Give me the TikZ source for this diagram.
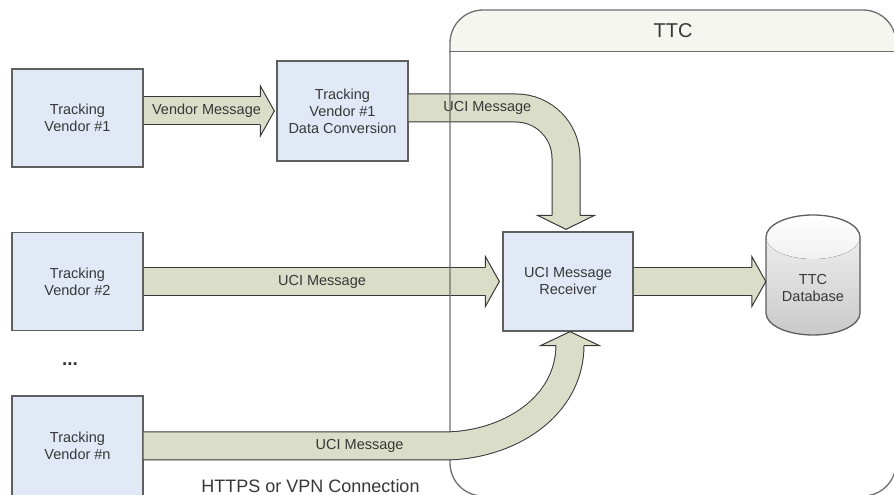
\documentclass[tikz,border=0pt]{standalone}
\usepackage{fontspec}
\setmainfont{Liberation Sans}
\usetikzlibrary{calc}

\definecolor{boxfill}{RGB}{226,233,246}
\definecolor{boxline}{RGB}{95,95,95}
\definecolor{msgfill}{RGB}{218,222,200}
\definecolor{msgline}{RGB}{55,55,55}
\definecolor{ttcline}{RGB}{110,110,110}
\definecolor{headfill}{RGB}{246,246,241}
\definecolor{textgray}{RGB}{55,55,55}

\newcommand{\boxfont}{\fontsize{14.5}{17}\selectfont}
% fat arrow head: tip, direction, half width
\newcommand{\msgtip}[3]{%
  \filldraw[msghead, shift={(#1)}, rotate=#2]
    (-14,-14) -- (-14,-#3) -- (0,0) -- (-14,#3) -- (-14,14);}

\begin{document}
\begin{tikzpicture}[x=1pt, y=1pt,
    block/.style={rectangle, draw=boxline, line width=1.3pt, fill=boxfill,
                  minimum width=131pt, minimum height=98pt,
                  text centered, align=center, text=textgray, font=\boxfont},
    msgbody/.style={draw=msgline, line width=1pt, double=msgfill,
                    double distance=27pt},
    msghead/.style={fill=msgfill, draw=msgline, line width=1pt},
    msglabel/.style={text=textgray, font=\boxfont, inner sep=0pt},
    container/.style={rectangle, draw=ttcline, line width=1.3pt,
                      rounded corners=33pt,
                      minimum width=446pt, minimum height=486pt,
                      path picture={\fill[headfill, sharp corners]
                        ([yshift=-42]path picture bounding box.north west)
                        rectangle (path picture bounding box.north east);}}
]
    \useasboundingbox (0,0) rectangle (894,495);

    % Vendors
    \node[block] (v1) at (77.5, 377) {Tracking\\Vendor \#1};
    \node[block, minimum height=100pt] (conv) at (342.5, 384)
        {Tracking\\Vendor \#1\\Data Conversion};
    \node[block] (v2) at (77.5, 213.5) {Tracking\\Vendor \#2};
    \node[block, minimum height=100pt] (vn) at (77.5, 49)
        {Tracking\\Vendor \#n};
    \node[msglabel, font=\fontsize{19}{22}\selectfont\bfseries] (dots)
        at (70, 131) {...};

    % Receiver
    \node[block, minimum width=130pt, minimum height=99pt] (recv)
        at (568, 213.5) {UCI Message\\Receiver};

    % Database
    \fill[top color=gray!8, bottom color=gray!42]
        (766,258) -- (766,182)
        arc[start angle=180, end angle=360, x radius=47, y radius=22]
        -- (860,258)
        arc[start angle=0, end angle=180, x radius=47, y radius=22] -- cycle;
    \fill[top color=white, bottom color=gray!12]
        (813,258) ellipse [x radius=47, y radius=22];
    \draw[boxline, line width=1.3pt]
        (766,258) -- (766,182)
        arc[start angle=180, end angle=360, x radius=47, y radius=22]
        -- (860,258)
        arc[start angle=0, end angle=180, x radius=47, y radius=22] -- cycle;
    \node[msglabel, minimum width=94pt, align=center] (db) at (813, 207)
        {TTC\\Database};

    % Arrow tips
    \coordinate (t1) at ([xshift=-2]conv.west);
    \coordinate (t2) at ([xshift=-2, yshift=2]recv.north);
    \coordinate (t3) at ([xshift=2]recv.south);
    \coordinate (t4) at (db.west |- recv.east);
    \coordinate (t5) at ([xshift=-3]recv.west);

    % Messages
    \draw[msgbody] (v1.east |- conv.west) -- node[msglabel, xshift=4]
        {Vendor Message} ([xshift=-13]t1);
    \msgtip{t1}{0}{25}
    \draw[msgbody, rounded corners=50] ([yshift=3]conv.east)
        -| node[msglabel, pos=0.25] {UCI Message} ([yshift=13]t2);
    \msgtip{t2}{-90}{28.5}
    \draw[msgbody] (v2.east) -- node[msglabel, xshift=7]
        {UCI Message} ([xshift=-13]t5);
    \msgtip{t5}{0}{25}
    \draw[msgbody] (recv.east) -- ([xshift=-13]t4);
    \msgtip{t4}{0}{25}

    % TTC
    \node[container] (ttc) at (673, 242) {};
    \draw[ttcline, line width=1.3pt] ([yshift=-42]ttc.north west)
        -- ([yshift=-42]ttc.north east);
    \node[font=\fontsize{20}{24}\selectfont, text=textgray] (ttctitle)
        at ([yshift=-21]ttc.north) {TTC};

    \draw[msgbody] (vn.east) -- node[msglabel, pos=0.72] {UCI Message}
        ++(300,0) to[out=0, in=-90] ([yshift=-13]t3);
    \msgtip{t3}{90}{29.5}

    \node[font=\fontsize{18}{21}\selectfont, text=textgray] (conn)
        at (310.5, 8.5) {HTTPS or VPN Connection};

\end{tikzpicture}
\end{document}
